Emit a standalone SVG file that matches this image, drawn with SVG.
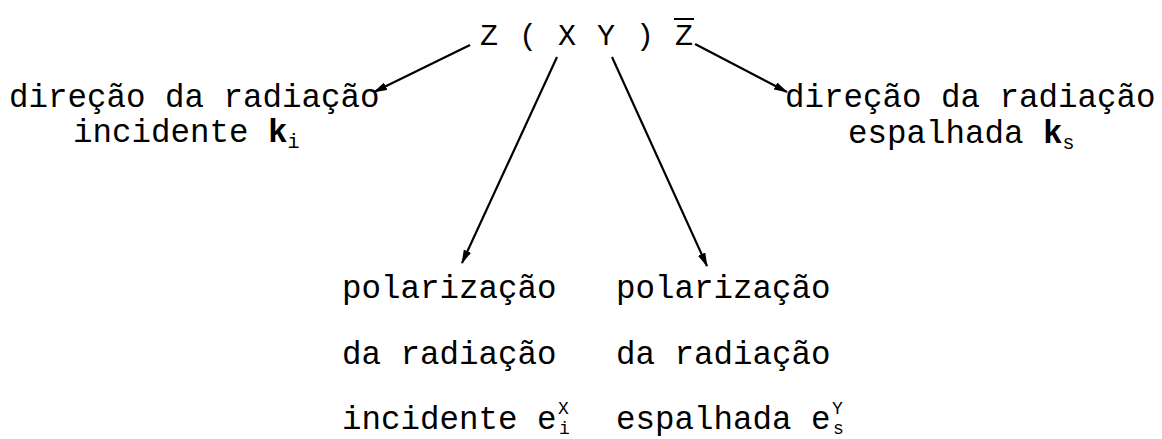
<svg xmlns="http://www.w3.org/2000/svg" width="1162" height="439" viewBox="0 0 1162 439">
<style>
text{font-family:"Liberation Mono","Courier New",monospace;fill:#000;white-space:pre}
.t{font-size:32.5px}
.top{font-size:30px;letter-spacing:1.5px}
.b{font-weight:bold}
.s{font-size:20px}
.ss{font-size:18px}
.c{stroke:#000;stroke-width:2.2;fill:none;marker-end:url(#ah)}
</style>
<defs>
<marker id="ah" viewBox="0 0 14 8" refX="13" refY="4" markerWidth="14" markerHeight="8" markerUnits="userSpaceOnUse" orient="auto">
<path d="M0,0 L14,4 L0,8 z" fill="#000"/>
</marker>
</defs>
<rect width="1162" height="439" fill="#fff"/>
<g id="formula">
<text class="top" x="480" y="45">Z ( X Y ) Z</text>
<line x1="674" y1="19" x2="694" y2="19" stroke="#000" stroke-width="2"/>
</g>
<g id="ki">
<text class="t" x="9" y="107">direção da radiação</text>
<text class="t" x="73" y="142">incidente <tspan class="b">k</tspan><tspan class="s" dy="6">i</tspan></text>
</g>
<g id="ks">
<text class="t" x="785" y="107">direção da radiação</text>
<text class="t" x="848" y="143">espalhada <tspan class="b">k</tspan><tspan class="s" dy="6">s</tspan></text>
</g>
<g id="ei">
<text class="t" x="342" y="298">polarização</text>
<text class="t" x="342" y="364">da radiação</text>
<text class="t" x="342" y="429">incidente e</text>
<text class="ss" x="558" y="414">X</text>
<text class="ss" x="559" y="434">i</text>
</g>
<g id="es">
<text class="t" x="616" y="298">polarização</text>
<text class="t" x="616" y="364">da radiação</text>
<text class="t" x="616" y="429">espalhada e</text>
<text class="ss" x="832" y="414">Y</text>
<text class="ss" x="833" y="434">s</text>
</g>
<g id="connectors">
<line class="c" x1="470" y1="45" x2="374" y2="92"/>
<line class="c" x1="695" y1="44" x2="787" y2="92"/>
<line class="c" x1="557" y1="57" x2="462" y2="263"/>
<line class="c" x1="612" y1="57" x2="707" y2="266"/>
</g>
</svg>
